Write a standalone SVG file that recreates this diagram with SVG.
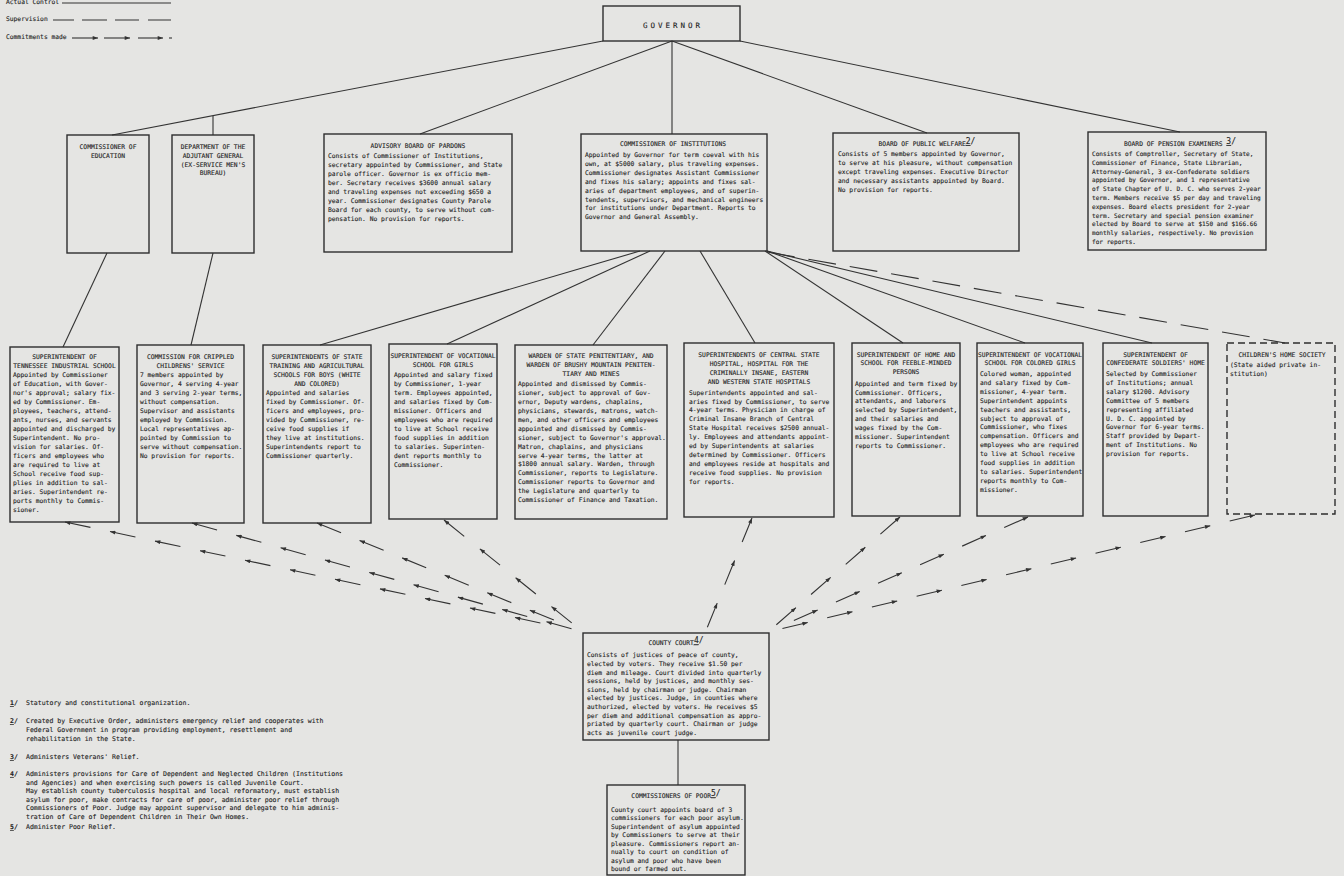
<svg xmlns="http://www.w3.org/2000/svg" width="1344" height="876" viewBox="0 0 1344 876">
<defs>
<style>
text{font-family:"DejaVu Sans Mono","Liberation Mono",monospace;font-size:6.3px;fill:#1f1f1f;stroke:#1f1f1f;stroke-width:0.12}
.c{text-anchor:middle}
.fn{font-size:6.5px}
.sm{font-size:6.1px}
.bx{fill:none;stroke:#2e2e2e;stroke-width:1.4}
.dbx{fill:none;stroke:#2e2e2e;stroke-width:1.4;stroke-dasharray:7 4}
.ln{stroke:#333;stroke-width:1.1;fill:none}
.dl{stroke:#333;stroke-width:1.1;fill:none;stroke-dasharray:28 14}
.ar{stroke:#333;stroke-width:1.1;fill:none;stroke-dasharray:26 20;marker-mid:url(#ah);marker-end:url(#ah)}
.sup{font-size:8px}
.gov{font-size:7.5px;letter-spacing:3px}
</style>
<marker id="ah" viewBox="0 0 8 6" refX="8" refY="3" markerWidth="6" markerHeight="4" orient="auto" markerUnits="userSpaceOnUse"><path d="M0,0 L8,3 L0,6 z" fill="#333"/></marker>
</defs>
<rect x="0" y="0" width="1344" height="876" fill="#e5e5e3"/>

<g id="legend">
<text x="6" y="4">Actual Control</text>
<line class="ln" x1="62" y1="3" x2="171" y2="3"/>
<text x="6" y="21">Supervision</text>
<path class="ln" d="M53,20 H74 M82,20 H107 M115,20 H139 M148,20 H171"/>
<text x="6" y="39">Commitments made</text>
<line class="ln" x1="72" y1="38" x2="98" y2="38" marker-end="url(#ah)"/>
<line class="ln" x1="104" y1="38" x2="130" y2="38" marker-end="url(#ah)"/>
<line class="ln" x1="138" y1="38" x2="163" y2="38" marker-end="url(#ah)"/>
<line class="ln" x1="169" y1="38" x2="172" y2="38"/>
</g>

<g id="connectors">
<line class="ln" x1="603" y1="41" x2="112" y2="135"/>
<line class="ln" x1="213" y1="116" x2="213" y2="135"/>
<line class="ln" x1="672" y1="41" x2="420" y2="134"/>
<line class="ln" x1="672" y1="41" x2="672" y2="134"/>
<line class="ln" x1="672" y1="41" x2="927" y2="133"/>
<line class="ln" x1="740" y1="41" x2="1180" y2="132"/>
<line class="ln" x1="107" y1="253" x2="63" y2="347"/>
<line class="ln" x1="213" y1="253" x2="191" y2="345"/>
<line class="ln" x1="640" y1="251" x2="320" y2="345"/>
<line class="ln" x1="650" y1="251" x2="447" y2="344"/>
<line class="ln" x1="665" y1="251" x2="593" y2="345"/>
<line class="ln" x1="700" y1="251" x2="755" y2="343"/>
<line class="ln" x1="765" y1="251" x2="903" y2="343"/>
<line class="ln" x1="767" y1="251" x2="1025" y2="343"/>
<line class="ln" x1="767" y1="251" x2="1152" y2="343"/>
<line class="dl" x1="767" y1="252" x2="1285" y2="343"/>
<line class="ln" x1="678" y1="740" x2="678" y2="785"/>
<g transform="translate(65,522) rotate(-168.01)"><polyline class="ar" points="-486,0 -460,0 -414,0 -368,0 -322,0 -276,0 -230,0 -184,0 -138,0 -92,0 -46,0 0,0"/></g>
<g transform="translate(192,523) rotate(-164.42)"><polyline class="ar" points="-394,0 -368,0 -322,0 -276,0 -230,0 -184,0 -138,0 -92,0 -46,0 0,0"/></g>
<g transform="translate(317,523) rotate(-157.72)"><polyline class="ar" points="-256,0 -230,0 -184,0 -138,0 -92,0 -46,0 0,0"/></g>
<g transform="translate(444,520) rotate(-141.14)"><polyline class="ar" points="-164,0 -138,0 -92,0 -46,0 0,0"/></g>
<g transform="translate(752,518) rotate(-67.77)"><polyline class="ar" points="-118,0 -92,0 -46,0 0,0"/></g>
<g transform="translate(900,517) rotate(-41.06)"><polyline class="ar" points="-164,0 -138,0 -92,0 -46,0 0,0"/></g>
<g transform="translate(1028,517) rotate(-23.86)"><polyline class="ar" points="-256,0 -230,0 -184,0 -138,0 -92,0 -46,0 0,0"/></g>
<g transform="translate(1255,515) rotate(-13.51)"><polyline class="ar" points="-486,0 -460,0 -414,0 -368,0 -322,0 -276,0 -230,0 -184,0 -138,0 -92,0 -46,0 0,0"/></g>
</g>

<g id="governor">
<rect class="bx" x="603" y="6" width="137" height="35"/>
<text class="c gov" x="673" y="28">GOVERNOR</text>
</g>

<g id="comm-education">
<rect class="bx" x="67" y="135" width="82" height="118"/>
<text class="c" x="108" y="149">COMMISSIONER OF</text>
<text class="c" x="108" y="158">EDUCATION</text>
</g>

<g id="adjutant-general">
<rect class="bx" x="172" y="135" width="82" height="118"/>
<text class="c" x="213" y="149">DEPARTMENT OF THE</text>
<text class="c" x="213" y="158">ADJUTANT GENERAL</text>
<text class="c" x="213" y="166.5">(EX-SERVICE MEN'S</text>
<text class="c" x="213" y="175">BUREAU)</text>
</g>

<g id="advisory-board">
<rect class="bx" x="324" y="134" width="188" height="118"/>
<text class="c" x="418" y="148">ADVISORY BOARD OF PARDONS</text>
<text x="328" y="158"><tspan x="328" dy="0">Consists of Commissioner of Institutions,</tspan><tspan x="328" dy="9">secretary appointed by Commissioner, and State</tspan><tspan x="328" dy="9">parole officer.  Governor is ex officio mem-</tspan><tspan x="328" dy="9">ber.  Secretary receives $3600 annual salary</tspan><tspan x="328" dy="9">and traveling expenses not exceeding $650 a</tspan><tspan x="328" dy="9">year.  Commissioner designates County Parole</tspan><tspan x="328" dy="9">Board for each county, to serve without com-</tspan><tspan x="328" dy="9">pensation. No provision for reports.</tspan></text>
</g>

<g id="comm-institutions">
<rect class="bx" x="581" y="134" width="186" height="117"/>
<text class="c" x="673" y="146">COMMISSIONER OF INSTITUTIONS</text>
<text x="585" y="157"><tspan x="585" dy="0">Appointed by Governor for term coeval with his</tspan><tspan x="585" dy="8.9">own, at $5000 salary, plus traveling expenses.</tspan><tspan x="585" dy="8.9">Commissioner designates Assistant Commissioner</tspan><tspan x="585" dy="8.9">and fixes his salary; appoints and fixes sal-</tspan><tspan x="585" dy="8.9">aries of department employees, and of superin-</tspan><tspan x="585" dy="8.9">tendents, supervisors, and mechanical engineers</tspan><tspan x="585" dy="8.9">for institutions under Department. Reports to</tspan><tspan x="585" dy="8.9">Governor and General Assembly.</tspan></text>
</g>

<g id="public-welfare">
<rect class="bx" x="833" y="133" width="186" height="118"/>
<text class="c" x="927" y="146">BOARD OF PUBLIC WELFARE<tspan class="sup" dy="-2" text-decoration="underline">2</tspan><tspan class="sup">/</tspan></text>
<text x="838" y="156"><tspan x="838" dy="0">Consists of 5 members appointed by Governor,</tspan><tspan x="838" dy="9">to serve at his pleasure, without compensation</tspan><tspan x="838" dy="9">except traveling expenses. Executive Director</tspan><tspan x="838" dy="9">and necessary assistants appointed by Board.</tspan><tspan x="838" dy="9">No provision for reports.</tspan></text>
</g>

<g id="pension-examiners">
<rect class="bx" x="1088" y="132" width="178" height="118"/>
<text class="c" x="1180" y="146">BOARD OF PENSION EXAMINERS <tspan class="sup" dy="-2" text-decoration="underline">3</tspan><tspan class="sup">/</tspan></text>
<text class="sm" x="1092" y="156"><tspan x="1092" dy="0">Consists of Comptroller, Secretary of State,</tspan><tspan x="1092" dy="8.8">Commissioner of Finance, State Librarian,</tspan><tspan x="1092" dy="8.8">Attorney-General, 3 ex-Confederate soldiers</tspan><tspan x="1092" dy="8.8">appointed by Governor, and 1 representative</tspan><tspan x="1092" dy="8.8">of State Chapter of U. D. C. who serves 2-year</tspan><tspan x="1092" dy="8.8">term. Members receive $5 per day and traveling</tspan><tspan x="1092" dy="8.8">expenses.  Board elects president for 2-year</tspan><tspan x="1092" dy="8.8">term.  Secretary and special pension examiner</tspan><tspan x="1092" dy="8.8">elected by Board to serve at $150 and $166.66</tspan><tspan x="1092" dy="8.8">monthly salaries, respectively.  No provision</tspan><tspan x="1092" dy="8.8">for reports.</tspan></text>
</g>

<g id="tn-industrial-school">
<rect class="bx" x="10" y="347" width="109" height="175"/>
<text class="c" x="64.5" y="358.5">SUPERINTENDENT OF</text>
<text class="c" x="64.5" y="367.5">TENNESSEE INDUSTRIAL SCHOOL</text>
<text x="13" y="376.6"><tspan x="13" dy="0">Appointed by Commissioner</tspan><tspan x="13" dy="9">of Education, with Gover-</tspan><tspan x="13" dy="9">nor's approval; salary fix-</tspan><tspan x="13" dy="9">ed by Commissioner.  Em-</tspan><tspan x="13" dy="9">ployees, teachers, attend-</tspan><tspan x="13" dy="9">ants, nurses, and servants</tspan><tspan x="13" dy="9">appointed and discharged by</tspan><tspan x="13" dy="9">Superintendent.  No pro-</tspan><tspan x="13" dy="9">vision for salaries.  Of-</tspan><tspan x="13" dy="9">ficers and employees who</tspan><tspan x="13" dy="9">are required to live at</tspan><tspan x="13" dy="9">School receive food sup-</tspan><tspan x="13" dy="9">plies in addition to sal-</tspan><tspan x="13" dy="9">aries.  Superintendent re-</tspan><tspan x="13" dy="9">ports monthly to Commis-</tspan><tspan x="13" dy="9">sioner.</tspan></text>
</g>

<g id="crippled-children">
<rect class="bx" x="137" y="345" width="107" height="178"/>
<text class="c" x="190.5" y="358.5">COMMISSION FOR CRIPPLED</text>
<text class="c" x="190.5" y="367.5">CHILDRENS' SERVICE</text>
<text x="140" y="376.6"><tspan x="140" dy="0">7 members appointed by</tspan><tspan x="140" dy="9">Governor, 4 serving 4-year</tspan><tspan x="140" dy="9">and 3 serving 2-year terms,</tspan><tspan x="140" dy="9">without compensation.</tspan><tspan x="140" dy="9">Supervisor and assistants</tspan><tspan x="140" dy="9">employed by Commission.</tspan><tspan x="140" dy="9">Local representatives ap-</tspan><tspan x="140" dy="9">pointed by Commission to</tspan><tspan x="140" dy="9">serve without compensation.</tspan><tspan x="140" dy="9">No provision for reports.</tspan></text>
</g>

<g id="training-schools">
<rect class="bx" x="263" y="345" width="108" height="178"/>
<text class="c" x="317" y="358.5">SUPERINTENDENTS OF STATE</text>
<text class="c" x="317" y="367.5">TRAINING AND AGRICULTURAL</text>
<text class="c" x="317" y="376.5">SCHOOLS FOR BOYS (WHITE</text>
<text class="c" x="317" y="385.5">AND COLORED)</text>
<text x="266" y="394.5"><tspan x="266" dy="0">Appointed and salaries</tspan><tspan x="266" dy="9">fixed by Commissioner. Of-</tspan><tspan x="266" dy="9">ficers and employees, pro-</tspan><tspan x="266" dy="9">vided by Commissioner, re-</tspan><tspan x="266" dy="9">ceive food supplies if</tspan><tspan x="266" dy="9">they live at institutions.</tspan><tspan x="266" dy="9">Superintendents report to</tspan><tspan x="266" dy="9">Commissioner quarterly.</tspan></text>
</g>

<g id="vocational-girls">
<rect class="bx" x="389" y="344" width="108" height="175"/>
<text class="c" x="443" y="358" textLength="105" lengthAdjust="spacingAndGlyphs">SUPERINTENDENT OF VOCATIONAL</text>
<text class="c" x="443" y="366.8">SCHOOL FOR GIRLS</text>
<text x="394" y="377.3"><tspan x="394" dy="0">Appointed and salary fixed</tspan><tspan x="394" dy="9">by Commissioner, 1-year</tspan><tspan x="394" dy="9">term. Employees appointed,</tspan><tspan x="394" dy="9">and salaries fixed by Com-</tspan><tspan x="394" dy="9">missioner. Officers and</tspan><tspan x="394" dy="9">employees who are required</tspan><tspan x="394" dy="9">to live at School receive</tspan><tspan x="394" dy="9">food supplies in addition</tspan><tspan x="394" dy="9">to salaries. Superinten-</tspan><tspan x="394" dy="9">dent reports monthly to</tspan><tspan x="394" dy="9">Commissioner.</tspan></text>
</g>

<g id="warden">
<rect class="bx" x="515" y="345" width="152" height="174"/>
<text class="c" x="591" y="358">WARDEN OF  STATE PENITENTIARY, AND</text>
<text class="c" x="591" y="367">WARDEN OF BRUSHY MOUNTAIN PENITEN-</text>
<text class="c" x="591" y="376">TIARY AND MINES</text>
<text x="518" y="386.3"><tspan x="518" dy="0">Appointed and dismissed by Commis-</tspan><tspan x="518" dy="8.9">sioner, subject to approval of Gov-</tspan><tspan x="518" dy="8.9">ernor, Deputy wardens, chaplains,</tspan><tspan x="518" dy="8.9">physicians, stewards, matrons, watch-</tspan><tspan x="518" dy="8.9">men, and other officers and employees</tspan><tspan x="518" dy="8.9">appointed and dismissed by Commis-</tspan><tspan x="518" dy="8.9">sioner, subject to Governor's approval.</tspan><tspan x="518" dy="8.9">Matron, chaplains, and physicians</tspan><tspan x="518" dy="8.9">serve 4-year terms, the latter at</tspan><tspan x="518" dy="8.9">$1800 annual salary. Warden, through</tspan><tspan x="518" dy="8.9">Commissioner, reports to Legislature.</tspan><tspan x="518" dy="8.9">Commissioner reports to Governor and</tspan><tspan x="518" dy="8.9">the Legislature and quarterly to</tspan><tspan x="518" dy="8.9">Commissioner of Finance and Taxation.</tspan></text>
</g>

<g id="state-hospitals">
<rect class="bx" x="684" y="343" width="150" height="174"/>
<text class="c" x="759" y="357.3">SUPERINTENDENTS OF CENTRAL STATE</text>
<text class="c" x="759" y="366.3">HOSPITAL, HOSPITAL FOR THE</text>
<text class="c" x="759" y="375.3">CRIMINALLY INSANE, EASTERN</text>
<text class="c" x="759" y="384.3">AND WESTERN STATE HOSPITALS</text>
<text x="689" y="394.6"><tspan x="689" dy="0">Superintendents appointed and sal-</tspan><tspan x="689" dy="8.9">aries fixed by Commissioner, to serve</tspan><tspan x="689" dy="8.9">4-year terms.  Physician in charge of</tspan><tspan x="689" dy="8.9">Criminal Insane Branch of Central</tspan><tspan x="689" dy="8.9">State Hospital receives $2500 annual-</tspan><tspan x="689" dy="8.9">ly. Employees and attendants appoint-</tspan><tspan x="689" dy="8.9">ed by Superintendents at salaries</tspan><tspan x="689" dy="8.9">determined by Commissioner. Officers</tspan><tspan x="689" dy="8.9">and employees reside at hospitals and</tspan><tspan x="689" dy="8.9">receive food supplies.  No provision</tspan><tspan x="689" dy="8.9">for reports.</tspan></text>
</g>

<g id="feeble-minded">
<rect class="bx" x="852" y="343" width="108" height="173"/>
<text class="c" x="906" y="356.6">SUPERINTENDENT OF HOME AND</text>
<text class="c" x="906" y="365.3">SCHOOL FOR FEEBLE-MINDED</text>
<text class="c" x="906" y="374">PERSONS</text>
<text x="855" y="385.6"><tspan x="855" dy="0">Appointed and term fixed by</tspan><tspan x="855" dy="8.9">Commissioner.  Officers,</tspan><tspan x="855" dy="8.9">attendants, and laborers</tspan><tspan x="855" dy="8.9">selected by Superintendent,</tspan><tspan x="855" dy="8.9">and their salaries and</tspan><tspan x="855" dy="8.9">wages fixed by the Com-</tspan><tspan x="855" dy="8.9">missioner.  Superintendent</tspan><tspan x="855" dy="8.9">reports to Commissioner.</tspan></text>
</g>

<g id="vocational-colored-girls">
<rect class="bx" x="977" y="343" width="106" height="173"/>
<text class="c" x="1030" y="356.6" textLength="104" lengthAdjust="spacingAndGlyphs">SUPERINTENDENT OF VOCATIONAL</text>
<text class="c" x="1030" y="365.3">SCHOOL FOR COLORED GIRLS</text>
<text x="980" y="376"><tspan x="980" dy="0">Colored woman, appointed</tspan><tspan x="980" dy="8.9">and salary fixed by Com-</tspan><tspan x="980" dy="8.9">missioner, 4-year term.</tspan><tspan x="980" dy="8.9">Superintendent appoints</tspan><tspan x="980" dy="8.9">teachers and assistants,</tspan><tspan x="980" dy="8.9">subject to approval of</tspan><tspan x="980" dy="8.9">Commissioner, who fixes</tspan><tspan x="980" dy="8.9">compensation. Officers and</tspan><tspan x="980" dy="8.9">employees who are required</tspan><tspan x="980" dy="8.9">to live at School receive</tspan><tspan x="980" dy="8.9">food supplies in addition</tspan><tspan x="980" dy="8.9">to salaries. Superintendent</tspan><tspan x="980" dy="8.9">reports monthly to Com-</tspan><tspan x="980" dy="8.9">missioner.</tspan></text>
</g>

<g id="confederate-home">
<rect class="bx" x="1103" y="343" width="105" height="173"/>
<text class="c" x="1155.5" y="356.6">SUPERINTENDENT OF</text>
<text class="c" x="1155.5" y="365.3">CONFEDERATE SOLDIERS' HOME</text>
<text x="1106" y="376"><tspan x="1106" dy="0">Selected by Commissioner</tspan><tspan x="1106" dy="8.9">of Institutions; annual</tspan><tspan x="1106" dy="8.9">salary $1200. Advisory</tspan><tspan x="1106" dy="8.9">Committee of 5 members</tspan><tspan x="1106" dy="8.9">representing affiliated</tspan><tspan x="1106" dy="8.9">U. D. C. appointed by</tspan><tspan x="1106" dy="8.9">Governor for 6-year terms.</tspan><tspan x="1106" dy="8.9">Staff provided by Depart-</tspan><tspan x="1106" dy="8.9">ment of Institutions. No</tspan><tspan x="1106" dy="8.9">provision for reports.</tspan></text>
</g>

<g id="childrens-home">
<rect class="dbx" x="1227" y="343" width="108" height="171"/>
<text class="c" x="1282" y="356.6">CHILDREN'S HOME SOCIETY</text>
<text x="1230" y="367.3"><tspan x="1230" dy="0">(State aided private in-</tspan><tspan x="1230" dy="8.9">stitution)</tspan></text>
</g>

<g id="county-court">
<rect class="bx" x="583" y="633" width="186" height="107"/>
<text class="c" x="676" y="645.3">COUNTY COURT<tspan class="sup" dy="-2" text-decoration="underline">4</tspan><tspan class="sup">/</tspan></text>
<text x="587" y="657.3"><tspan x="587" dy="0">Consists of justices of peace of county,</tspan><tspan x="587" dy="8.6">elected by voters.  They receive $1.50 per</tspan><tspan x="587" dy="8.6">diem and mileage. Court divided into quarterly</tspan><tspan x="587" dy="8.6">sessions, held by justices, and monthly ses-</tspan><tspan x="587" dy="8.6">sions, held by chairman or judge.  Chairman</tspan><tspan x="587" dy="8.6">elected by justices.  Judge, in counties where</tspan><tspan x="587" dy="8.6">authorized, elected by voters.  He receives $5</tspan><tspan x="587" dy="8.6">per diem and additional compensation as appro-</tspan><tspan x="587" dy="8.6">priated by quarterly court. Chairman or judge</tspan><tspan x="587" dy="8.6">acts as juvenile court judge.</tspan></text>
</g>

<g id="commissioners-of-poor">
<rect class="bx" x="607" y="785" width="138" height="90"/>
<text class="c" x="676" y="798.3">COMMISSIONERS OF POOR<tspan class="sup" dy="-2" text-decoration="underline">5</tspan><tspan class="sup">/</tspan></text>
<text x="611" y="811.6"><tspan x="611" dy="0">County court appoints board of 3</tspan><tspan x="611" dy="8.5">commissioners for each poor asylum.</tspan><tspan x="611" dy="8.5">Superintendent of asylum appointed</tspan><tspan x="611" dy="8.5">by Commissioners to serve at their</tspan><tspan x="611" dy="8.5">pleasure. Commissioners report an-</tspan><tspan x="611" dy="8.5">nually to court on condition of</tspan><tspan x="611" dy="8.5">asylum and poor who have been</tspan><tspan x="611" dy="8.5">bound or farmed out.</tspan></text>
</g>

<g id="footnotes">
<text class="fn" x="10" y="705.3"><tspan font-weight="bold" text-decoration="underline">1</tspan><tspan font-weight="bold">/</tspan></text>
<text class="fn" x="26" y="705.3">Statutory and constitutional organization.</text>
<text class="fn" x="10" y="723.3"><tspan font-weight="bold" text-decoration="underline">2</tspan><tspan font-weight="bold">/</tspan></text>
<text class="fn" x="26" y="723.3"><tspan x="26" dy="0">Created by Executive Order, administers emergency relief and cooperates with</tspan><tspan x="26" dy="8.8">Federal Government in program providing employment, resettlement and</tspan><tspan x="26" dy="8.8">rehabilitation in the State.</tspan></text>
<text class="fn" x="10" y="759.3"><tspan font-weight="bold" text-decoration="underline">3</tspan><tspan font-weight="bold">/</tspan></text>
<text class="fn" x="26" y="759.3">Administers Veterans' Relief.</text>
<text class="fn" x="10" y="776"><tspan font-weight="bold" text-decoration="underline">4</tspan><tspan font-weight="bold">/</tspan></text>
<text class="fn" x="26" y="776"><tspan x="26" dy="0">Administers provisions for Care of Dependent and Neglected Children (Institutions</tspan><tspan x="26" dy="8.5">and Agencies) and when exercising such powers is called Juvenile Court.</tspan><tspan x="26" dy="8.5">May establish county tuberculosis hospital and local reformatory, must establish</tspan><tspan x="26" dy="8.5">asylum for poor, make contracts for care of poor, administer poor relief through</tspan><tspan x="26" dy="8.5">Commissioners of Poor.  Judge may appoint supervisor and delegate to him adminis-</tspan><tspan x="26" dy="8.5">tration of Care of Dependent Children in Their Own Homes.</tspan></text>
<text class="fn" x="10" y="829"><tspan font-weight="bold" text-decoration="underline">5</tspan><tspan font-weight="bold">/</tspan></text>
<text class="fn" x="26" y="829">Administer Poor Relief.</text>
</g>
</svg>
